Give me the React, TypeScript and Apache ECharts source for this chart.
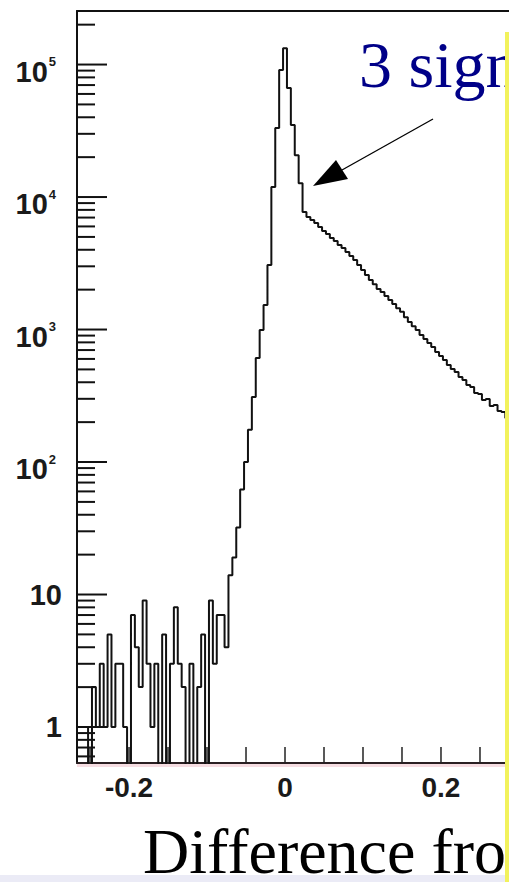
import React, { useEffect, useRef } from 'react';
import * as echarts from 'echarts';

// Histogram binning (bins centred on multiples of 0.005)
const BIN_WIDTH = 0.005;
const FIRST_BIN_CENTER = -0.265;

// Counts, bin by bin
// noise floor, bins centred -0.265 ... -0.075
const NOISE_COUNTS = [
  1, 1, 1, 0, 2, 1, 3, 1, 5, 1,
  3, 3, 1, 0, 7, 4, 2, 9, 3, 1,
  3, 0, 5, 0, 3, 8, 3, 2, 0, 3,
  0, 2, 5, 0, 9, 3, 7, 7, 4,
];
// rising edge and peak, bins centred -0.070 ... 0.025
const PEAK_COUNTS = [
  14, 19, 32, 62, 100, 175, 310, 610, 990, 1530,
  3070, 11900, 33200, 90800, 133000, 66500, 34900, 20700, 12700, 7700,
];
// exponential tail, bins centred 0.030 ... 0.285
const TAIL_COUNTS = [
  7060, 6700, 6370, 5940, 5540, 5260, 4910, 4660, 4350, 4120,
  3850, 3590, 3350, 3070, 2810, 2580, 2360, 2200, 2020, 1920,
  1790, 1670, 1560, 1450, 1360, 1240, 1140, 1060, 991, 909,
  847, 791, 738, 676, 631, 589, 540, 504, 478, 438,
  416, 381, 368, 332, 326, 294, 299, 265, 269, 243,
  239, 215,
];

// Axis ranges and ticks
const X_MIN = -0.2667;
const X_MAX = 0.2872;
const Y_MIN = 0.535;
const Y_MAX = 253600;
const X_TICKS = [-0.25, -0.2, -0.15, -0.1, -0.05, 0, 0.05, 0.1, 0.15, 0.2, 0.25];
const X_LABEL_VALUES = [-0.2, 0, 0.2];
const X_LABEL_TEXTS = ['-0.2', '0', '0.2'];
const Y_MAJOR_TICKS = [1, 10, 100, 1000, 10000, 100000];
const Y_MINOR_MULTS = [2, 3, 4, 5, 6, 7, 8, 9];
const Y_SUB_ONE_MINOR = [0.6, 0.7, 0.8, 0.9];
const ZERO_FLOOR = 0.2; // empty bins are drawn at the bottom (clipped)

const TITLE_TEXT = '3 sign';
const XAXIS_TEXT = 'Difference fro';

function buildStepData(): number[][] {
  const counts = [...NOISE_COUNTS, ...PEAK_COUNTS, ...TAIL_COUNTS];
  const pts = counts.map((c, i) => [
    +(FIRST_BIN_CENTER + i * BIN_WIDTH - BIN_WIDTH / 2).toFixed(5),
    c > 0 ? c : ZERO_FLOOR,
  ]);
  const last = counts[counts.length - 1];
  pts.push([
    +(FIRST_BIN_CENTER + (counts.length - 1) * BIN_WIDTH + BIN_WIDTH / 2).toFixed(5),
    last > 0 ? last : ZERO_FLOOR,
  ]);
  return pts;
}

function buildYTicks(): number[][] {
  const out: number[][] = [];
  Y_MAJOR_TICKS.forEach((v) => out.push([X_MIN, v, 30]));
  Y_SUB_ONE_MINOR.forEach((v) => out.push([X_MIN, v, 18]));
  Y_MAJOR_TICKS.forEach((d) => {
    Y_MINOR_MULTS.forEach((m) => {
      const v = d * m;
      if (v > Y_MIN && v < Y_MAX) out.push([X_MIN, v, 18]);
    });
  });
  return out;
}

const FONT_SANS = '"Liberation Sans", Arial, Helvetica, sans-serif';
const FONT_SERIF = '"Liberation Serif", "Times New Roman", Times, serif';

export default function App() {
  const ref = useRef<HTMLDivElement>(null);
  useEffect(() => {
    if (!ref.current) return;
    const chart = echarts.init(ref.current, undefined, { renderer: 'svg' });
    chart.setOption({
      animation: false,
      backgroundColor: '#ffffff',
      grid: { left: 77, right: 0, top: 11, bottom: 119, containLabel: false },
      xAxis: [
        {
          type: 'value',
          min: X_MIN,
          max: X_MAX,
          position: 'bottom',
          splitNumber: 5,
          axisLine: { show: true, onZero: false, lineStyle: { color: '#2a1f22', width: 2 } },
          axisTick: { show: false },
          splitLine: { show: false },
          axisLabel: {
            show: true,
            showMinLabel: false,
            showMaxLabel: false,
            margin: 10,
            fontSize: 28,
            fontWeight: 'bold',
            fontFamily: FONT_SANS,
            color: '#1a1a1a',
            formatter: (v: number) => {
              const idx = X_LABEL_VALUES.findIndex((t) => Math.abs(t - v) < 1e-6);
              return idx >= 0 ? X_LABEL_TEXTS[idx] : '';
            },
          },
        },
        {
          type: 'value',
          min: X_MIN,
          max: X_MAX,
          position: 'top',
          axisLine: { show: true, onZero: false, lineStyle: { color: '#111', width: 2 } },
          axisTick: { show: false },
          axisLabel: { show: false },
          splitLine: { show: false },
        },
      ],
      yAxis: {
        type: 'log',
        logBase: 10,
        min: Y_MIN,
        max: Y_MAX,
        axisLine: { show: true, onZero: false, lineStyle: { color: '#111', width: 2 } },
        axisTick: { show: false },
        splitLine: { show: false },
        minorTick: { show: false },
        axisLabel: {
          show: true,
          showMinLabel: false,
          showMaxLabel: false,
          margin: 15,
          color: '#1a1a1a',
          formatter: (v: number) => {
            const e = Math.log10(v);
            const r = Math.round(e);
            if (Math.abs(e - r) > 1e-6) return '';
            if (r === 0) return '{p|1}';
            if (r === 1) return '{p|10}';
            return `{b|10}{s|${r}}`;
          },
          rich: {
            p: { fontSize: 29, fontWeight: 'bold', fontFamily: FONT_SANS, color: '#1a1a1a', lineHeight: 29 },
            b: { fontSize: 29, fontWeight: 'bold', fontFamily: FONT_SANS, color: '#1a1a1a', lineHeight: 29, padding: [14, 0, 0, 0] },
            s: { fontSize: 13, fontWeight: 'bold', fontFamily: FONT_SANS, color: '#1a1a1a', lineHeight: 13, verticalAlign: 'top', padding: [5, 6, 0, 1] },
          },
        },
      },
      series: [
        {
          type: 'line',
          xAxisIndex: 0,
          yAxisIndex: 0,
          data: buildStepData(),
          step: 'end',
          symbol: 'none',
          showSymbol: false,
          clip: true,
          lineStyle: { color: '#111111', width: 2 },
          z: 3,
        },
        {
          type: 'custom',
          xAxisIndex: 0,
          yAxisIndex: 0,
          data: buildYTicks(),
          renderItem: (params: any, api: any) => {
            const p = api.coord([api.value(0), api.value(1)]);
            const len = api.value(2);
            return {
              type: 'line',
              shape: { x1: p[0], y1: p[1], x2: p[0] + len, y2: p[1] },
              style: { stroke: '#111', lineWidth: 2 },
            };
          },
          z: 4,
        },
        {
          type: 'custom',
          xAxisIndex: 0,
          yAxisIndex: 0,
          data: X_TICKS.map((x) => [x, Y_MIN, 16]),
          renderItem: (params: any, api: any) => {
            const p = api.coord([api.value(0), api.value(1)]);
            const len = api.value(2);
            return {
              type: 'line',
              shape: { x1: p[0], y1: p[1], x2: p[0], y2: p[1] - len },
              style: { stroke: '#222', lineWidth: 1.5 },
            };
          },
          z: 4,
        },
      ],
      graphic: [
        { type: 'rect', z: 50, shape: { x: 77, y: 764, width: 428, height: 3 }, style: { fill: '#f6dde2' } },
        { type: 'rect', z: 50, shape: { x: 0, y: 875, width: 505, height: 7 }, style: { fill: '#ebebf6' } },
        {
          type: 'text', z: 60, x: 143, y: 851,
          style: { text: XAXIS_TEXT, fontSize: 64, fontFamily: FONT_SERIF, fill: '#000000', verticalAlign: 'middle', align: 'left' },
        },
        {
          type: 'text', z: 60, x: 359, y: 64,
          style: { text: TITLE_TEXT, fontSize: 66, fontFamily: FONT_SERIF, fill: '#000088', verticalAlign: 'middle', align: 'left' },
        },
        { type: 'line', z: 60, shape: { x1: 433, y1: 119, x2: 342, y2: 170 }, style: { stroke: '#000', lineWidth: 1.3 } },
        { type: 'polygon', z: 60, shape: { points: [[313, 186], [336, 160], [348, 179]] }, style: { fill: '#000' } },
        { type: 'rect', z: 70, shape: { x: 505, y: 32, width: 4, height: 850 }, style: { fill: '#f2f25c' } },
      ],
    });
    return () => chart.dispose();
  }, []);
  return (
    <div
      ref={ref}
      style={{ position: 'absolute', left: 0, top: 0, width: 509, height: 882, background: '#fff' }}
    />
  );
}
